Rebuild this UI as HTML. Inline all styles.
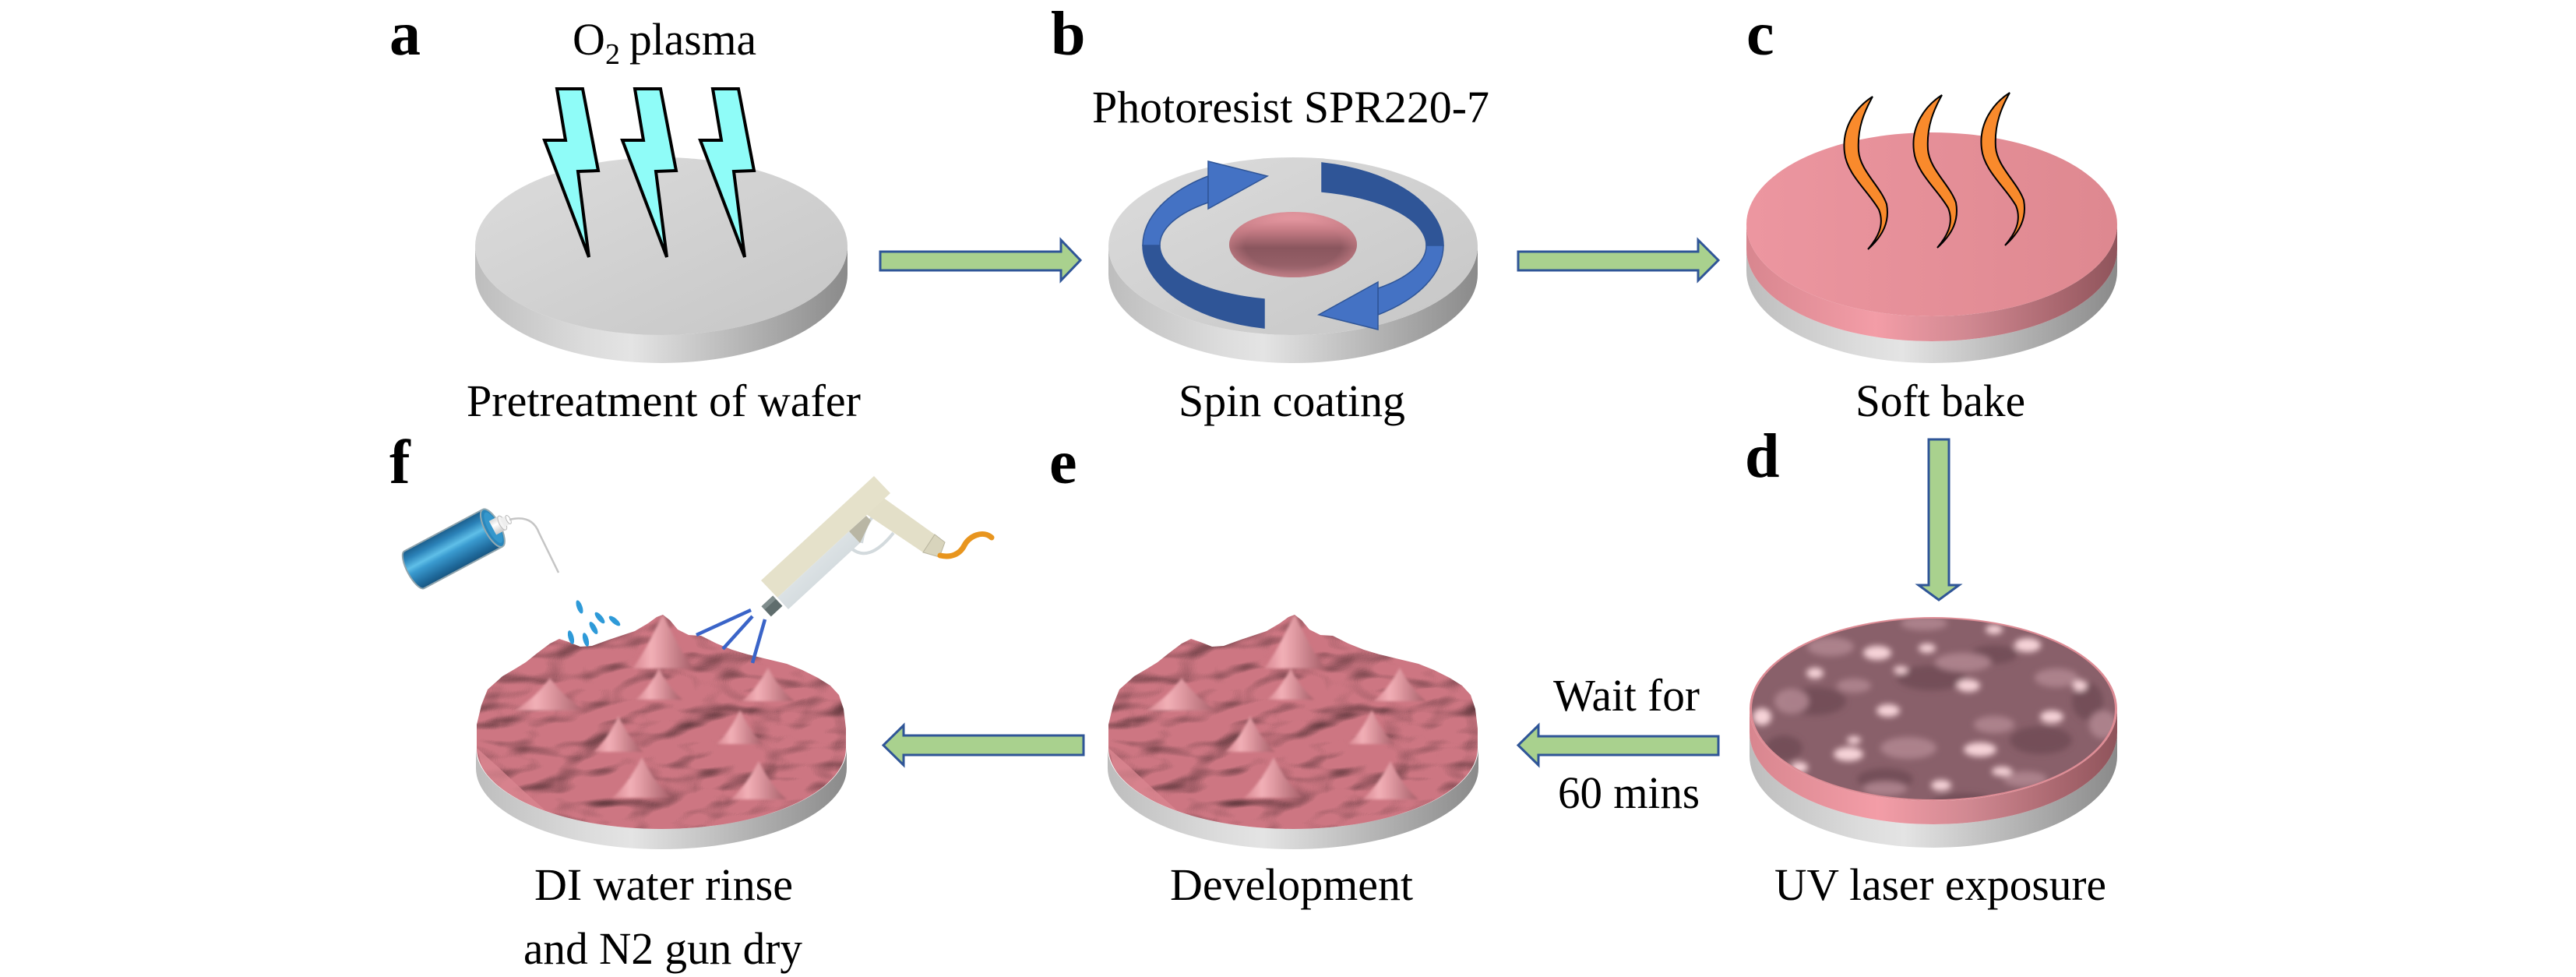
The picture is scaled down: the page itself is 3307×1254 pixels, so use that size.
<!DOCTYPE html>
<html><head><meta charset="utf-8"><style>
html,body{margin:0;padding:0;background:#fff;}
svg{display:block;}
text{font-family:"Liberation Serif","Times New Roman",serif;fill:#000;}
.lab{font-size:58px;}
.let{font-size:80px;font-weight:bold;}
</style></head><body>
<svg width="3307" height="1254" viewBox="0 0 3307 1254" xmlns="http://www.w3.org/2000/svg" font-family="Liberation Serif, serif">
<defs>
  <linearGradient id="greySide" x1="0" y1="0" x2="1" y2="0">
    <stop offset="0" stop-color="#bdbdbd"/><stop offset="0.3" stop-color="#dcdcdc"/>
    <stop offset="0.42" stop-color="#e4e4e4"/><stop offset="0.7" stop-color="#b8b8b8"/>
    <stop offset="1" stop-color="#8a8a8a"/>
  </linearGradient>
  <linearGradient id="greyTop" x1="0" y1="0" x2="1" y2="1">
    <stop offset="0" stop-color="#dcdcdc"/><stop offset="1" stop-color="#c6c6c6"/>
  </linearGradient>
  <linearGradient id="pinkSide" x1="0" y1="0" x2="1" y2="0">
    <stop offset="0" stop-color="#d8868f"/><stop offset="0.35" stop-color="#f39da7"/>
    <stop offset="0.6" stop-color="#d08891"/><stop offset="0.85" stop-color="#a8666e"/>
    <stop offset="1" stop-color="#8f545b"/>
  </linearGradient>
  <linearGradient id="pinkTop" x1="0" y1="0" x2="1" y2="0">
    <stop offset="0" stop-color="#ec96a0"/><stop offset="1" stop-color="#de8890"/>
  </linearGradient>
  <linearGradient id="dropG" x1="0" y1="0" x2="0" y2="1">
    <stop offset="0" stop-color="#f6a6af"/><stop offset="0.28" stop-color="#c67c85"/>
    <stop offset="0.55" stop-color="#8a565e"/><stop offset="0.8" stop-color="#955f67"/>
    <stop offset="1" stop-color="#b27780"/>
  </linearGradient>
  <radialGradient id="dropEdge" cx="0.5" cy="0.5" r="0.5">
    <stop offset="0.75" stop-color="#c98088" stop-opacity="0"/><stop offset="1" stop-color="#c98088" stop-opacity="0.6"/>
  </radialGradient>
  <linearGradient id="bottleG" x1="0" y1="0" x2="0" y2="1">
    <stop offset="0" stop-color="#1b5e8c"/><stop offset="0.2" stop-color="#2b82b8"/>
    <stop offset="0.42" stop-color="#5fbfe8"/><stop offset="0.55" stop-color="#3a9bd0"/>
    <stop offset="0.85" stop-color="#1f6a9c"/><stop offset="1" stop-color="#185580"/>
  </linearGradient>
  <linearGradient id="whiteG" x1="0" y1="0" x2="0" y2="1">
    <stop offset="0" stop-color="#d8d8d8"/><stop offset="0.4" stop-color="#ffffff"/><stop offset="1" stop-color="#c8c8c8"/>
  </linearGradient>
  <linearGradient id="barrelG" x1="0" y1="0" x2="1" y2="1">
    <stop offset="0" stop-color="#eef2f4"/><stop offset="1" stop-color="#c3ccd0"/>
  </linearGradient>
  <linearGradient id="coneG" x1="0" y1="0" x2="1" y2="0">
    <stop offset="0" stop-color="#d88791"/><stop offset="0.3" stop-color="#f2b0b7"/>
    <stop offset="0.5" stop-color="#e09aa2"/><stop offset="1" stop-color="#a65e68"/>
  </linearGradient>
  <filter id="blur4" x="-20%" y="-20%" width="140%" height="140%"><feGaussianBlur stdDeviation="4"/></filter>
  <filter id="blur1" x="-20%" y="-20%" width="140%" height="140%"><feGaussianBlur stdDeviation="1.5"/></filter>
  <filter id="bump" filterUnits="userSpaceOnUse" x="600" y="770" width="500" height="340" color-interpolation-filters="sRGB">
    <feTurbulence type="fractalNoise" baseFrequency="0.014 0.035" numOctaves="2" seed="5" result="n"/>
    <feGaussianBlur in="n" stdDeviation="1.2" result="nb"/>
    <feDiffuseLighting in="nb" surfaceScale="10" diffuseConstant="1.22" lighting-color="#ffffff" result="l">
      <feDistantLight azimuth="210" elevation="55"/>
    </feDiffuseLighting>
    <feFlood flood-color="#cd7682" result="p"/>
    <feBlend in="l" in2="p" mode="multiply"/>
  </filter>
  <clipPath id="roughClip">
    <path d="M612 960 L612 930 L618 905 L626 885 L645 868 L662 858 L675 850 L690 838 L706 826 L718 820 L730 824 L745 830 L760 829 L782 821 L800 815 L815 810 L832 800 L843 792 L851 789 L860 796 L870 808 L884 815 L900 816 L920 826 L940 834 L960 840 L985 846 L1010 852 L1030 860 L1050 870 L1066 880 L1077 892 L1083 910 L1086 935 L1086 960 A237 104 0 0 1 612 960 Z"/>
  </clipPath>
  <clipPath id="dClip"><ellipse cx="2482" cy="910" rx="233" ry="116"/></clipPath>
  <path id="flame" d="M0,0 C-22,14 -40,40 -36,72 C-33,100 -5,122 8,145 C16,165 6,182 -6,196 C14,178 22,160 18,138 C10,115 -16,95 -18,70 C-20,40 -10,18 0,0 Z"/>
  <path id="bolt" d="M715 114 L748 114 L768 219 L742 220 L756 330 L699 180 L726 180 Z"/>
  <g id="roughWafer">
    <path d="M611 960 L611 986 A238 104 0 0 0 1087 986 L1087 960 A238 104 0 0 1 611 960 Z" fill="url(#greySide)"/>
    <g clip-path="url(#roughClip)">
      <rect x="600" y="770" width="500" height="340" fill="#c8747e" filter="url(#bump)"/>
      <path d="M612 960 L640 985 L672 1015 L700 1040 L660 1030 L625 1005 Z" fill="#d98690" opacity="0.8"/>
      <g filter="url(#blur1)" fill="url(#coneG)">
        <path d="M812,858 C832,832 846,796 851,789 C856,796 870,832 890,858 Z"/>
        <path d="M660,912 C684,898 700,879 706,870 C712,879 728,898 752,912 Z"/>
        <path d="M816,898 C832,884 842,866 846,858 C850,866 860,884 876,898 Z"/>
        <path d="M952,900 C970,886 981,866 986,857 C991,866 1002,886 1020,900 Z"/>
        <path d="M920,955 C936,940 946,920 950,911 C954,920 964,940 980,955 Z"/>
        <path d="M762,965 C779,950 789,929 794,919 C799,929 809,950 826,965 Z"/>
        <path d="M786,1024 C806,1007 819,981 824,972 C829,981 842,1007 862,1024 Z"/>
        <path d="M938,1026 C957,1010 969,986 974,977 C979,986 991,1010 1010,1026 Z"/>
      </g>
    </g>
  </g>
</defs>

<!-- ===== a : wafer + plasma ===== -->
<path d="M610 316 L610 352 A239 114 0 0 0 1088 352 L1088 316 A239 114 0 0 1 610 316 Z" fill="url(#greySide)"/>
<ellipse cx="849" cy="316" rx="239" ry="114" fill="url(#greyTop)"/>
<g fill="#8ffcf8" stroke="#000" stroke-width="4" stroke-linejoin="miter">
  <use href="#bolt"/>
  <use href="#bolt" x="100"/>
  <use href="#bolt" x="200"/>
</g>

<!-- arrow a->b -->
<path d="M1130 323 L1362 323 L1362 308 L1387 334 L1362 360 L1362 347 L1130 347 Z" fill="#a9d18e" stroke="#2f5597" stroke-width="3"/>

<!-- ===== b : spin coating ===== -->
<path d="M1423 316 L1423 352 A237 114 0 0 0 1897 352 L1897 316 A237 114 0 0 1 1423 316 Z" fill="url(#greySide)"/>
<ellipse cx="1660" cy="316" rx="237" ry="114" fill="url(#greyTop)"/>
<ellipse cx="1660" cy="314" rx="82" ry="42" fill="url(#dropG)"/>
<ellipse cx="1660" cy="314" rx="82" ry="42" fill="url(#dropEdge)"/>
<g stroke="#2f5597" stroke-width="1.5" stroke-linejoin="miter">
  <path d="M1623 421 A193 108 0 0 1 1467 315 L1489 315 A171 71 0 0 0 1623 384 Z" fill="#2f5597"/>
  <path d="M1467 315 A193 108 0 0 1 1551 226 L1551 260 A171 71 0 0 0 1489 315 Z" fill="#4472c4"/>
  <path d="M1551 207 L1627 226 L1551 268 Z" fill="#4472c4"/>
  <path d="M1697 209 A193 108 0 0 1 1853 315 L1831 315 A171 71 0 0 0 1697 246 Z" fill="#2f5597"/>
  <path d="M1853 315 A193 108 0 0 1 1769 404 L1769 370 A171 71 0 0 0 1831 315 Z" fill="#4472c4"/>
  <path d="M1769 423 L1693 404 L1769 362 Z" fill="#4472c4"/>
</g>

<!-- arrow b->c -->
<path d="M1949 323 L2180 323 L2180 308 L2206 334 L2180 360 L2180 347 L1949 347 Z" fill="#a9d18e" stroke="#2f5597" stroke-width="3"/>

<!-- ===== c : soft bake ===== -->
<path d="M2242 320 L2242 348 A238 118 0 0 0 2718 348 L2718 320 A238 118 0 0 1 2242 320 Z" fill="url(#greySide)"/>
<path d="M2242 288 L2242 320 A238 118 0 0 0 2718 320 L2718 288 A238 118 0 0 1 2242 288 Z" fill="url(#pinkSide)"/>
<ellipse cx="2480" cy="288" rx="238" ry="118" fill="url(#pinkTop)"/>
<g fill="#f98a2c" stroke="#000" stroke-width="2">
  <use href="#flame" transform="translate(2404 124)"/>
  <use href="#flame" transform="translate(2493 122)"/>
  <use href="#flame" transform="translate(2580 119)"/>
</g>

<!-- arrow c->d -->
<path d="M2476 564 L2502 564 L2502 751 L2515 751 L2489 770 L2463 751 L2476 751 Z" fill="#a9d18e" stroke="#2f5597" stroke-width="3"/>

<!-- ===== d : UV exposure ===== -->
<path d="M2246 940 L2246 970 A236 118 0 0 0 2718 970 L2718 940 A236 118 0 0 1 2246 940 Z" fill="url(#greySide)"/>
<path d="M2246 910 L2246 940 A236 118 0 0 0 2718 940 L2718 910 A236 118 0 0 1 2246 910 Z" fill="url(#pinkSide)"/>
<ellipse cx="2482" cy="910" rx="236" ry="118" fill="#de8c95"/>
<g clip-path="url(#dClip)">
  <ellipse cx="2482" cy="910" rx="236" ry="118" fill="#89606a"/>
  <g filter="url(#blur4)">
    <g fill="#6f4a54" opacity="0.8">
      <ellipse cx="2330" cy="900" rx="40" ry="18"/><ellipse cx="2480" cy="870" rx="45" ry="16"/>
      <ellipse cx="2620" cy="950" rx="40" ry="18"/><ellipse cx="2420" cy="1000" rx="36" ry="14"/>
      <ellipse cx="2560" cy="840" rx="30" ry="12"/><ellipse cx="2680" cy="900" rx="20" ry="24"/>
      <ellipse cx="2290" cy="960" rx="24" ry="16"/><ellipse cx="2520" cy="1030" rx="40" ry="12"/>
    </g>
    <g fill="#b08690" opacity="0.9">
      <ellipse cx="2350" cy="830" rx="30" ry="12"/><ellipse cx="2520" cy="850" rx="36" ry="12"/>
      <ellipse cx="2640" cy="870" rx="28" ry="12"/><ellipse cx="2450" cy="960" rx="36" ry="14"/>
      <ellipse cx="2300" cy="900" rx="22" ry="16"/><ellipse cx="2600" cy="1000" rx="28" ry="10"/>
      <ellipse cx="2700" cy="930" rx="18" ry="18"/><ellipse cx="2420" cy="1012" rx="28" ry="9"/>
      <ellipse cx="2560" cy="930" rx="26" ry="11"/><ellipse cx="2380" cy="880" rx="22" ry="9"/>
      <ellipse cx="2470" cy="800" rx="30" ry="9"/><ellipse cx="2650" cy="810" rx="22" ry="8"/>
    </g>
    <g fill="#f6d3d8">
      <ellipse cx="2410" cy="838" rx="18" ry="9"/><ellipse cx="2474" cy="832" rx="11" ry="6"/>
      <ellipse cx="2603" cy="828" rx="17" ry="9"/><ellipse cx="2527" cy="880" rx="15" ry="8"/>
      <ellipse cx="2424" cy="912" rx="15" ry="8"/><ellipse cx="2262" cy="920" rx="12" ry="11"/>
      <ellipse cx="2634" cy="920" rx="15" ry="8"/><ellipse cx="2373" cy="968" rx="19" ry="9"/>
      <ellipse cx="2542" cy="962" rx="21" ry="9"/><ellipse cx="2492" cy="1008" rx="13" ry="7"/>
      <ellipse cx="2330" cy="864" rx="11" ry="7"/><ellipse cx="2670" cy="880" rx="9" ry="7"/>
      <ellipse cx="2570" cy="990" rx="13" ry="6"/><ellipse cx="2310" cy="985" rx="11" ry="7"/>
      <ellipse cx="2560" cy="808" rx="11" ry="6"/><ellipse cx="2690" cy="840" rx="9" ry="6"/>
      <ellipse cx="2440" cy="860" rx="9" ry="5"/><ellipse cx="2380" cy="950" rx="9" ry="5"/>
    </g>
  </g>
</g>

<!-- arrow d->e -->
<path d="M2206 945 L1975 945 L1975 931 L1949 956.5 L1975 982 L1975 969 L2206 969 Z" fill="#a9d18e" stroke="#2f5597" stroke-width="3"/>

<!-- ===== e : development ===== -->
<use href="#roughWafer" transform="translate(811 0)"/>

<!-- arrow e->f -->
<path d="M1391 944 L1160 944 L1160 931 L1134 956.5 L1160 982 L1160 969 L1391 969 Z" fill="#a9d18e" stroke="#2f5597" stroke-width="3"/>

<!-- ===== f : rinse & dry ===== -->
<use href="#roughWafer"/>

<!-- wash bottle -->
<g transform="translate(583 704) rotate(-28)">
  <ellipse cx="-58" cy="0" rx="9" ry="27" fill="url(#bottleG)"/>
  <rect x="-58" y="-27" width="114" height="54" fill="url(#bottleG)"/>
  <path d="M56 -27 L-58 -27 A9 27 0 0 0 -58 27 L56 27" fill="none" stroke="#90a4ad" stroke-width="2"/>
  <ellipse cx="56" cy="0" rx="10" ry="27" fill="#2a86bb" stroke="#93a9b1" stroke-width="2"/>
  <ellipse cx="57" cy="0" rx="7" ry="22" fill="#3597cc"/>
  <rect x="56" y="-10" width="14" height="20" fill="url(#whiteG)"/>
  <ellipse cx="70" cy="0" rx="4" ry="10" fill="#f4f4f4" stroke="#bbbbbb" stroke-width="1"/>
  <rect x="70" y="-6" width="9" height="12" fill="#eeeeee"/>
  <ellipse cx="79" cy="0" rx="2.5" ry="6" fill="#ffffff" stroke="#bbbbbb" stroke-width="1"/>
</g>
<path d="M654 667 Q683 660 692 684 L717 735" fill="none" stroke="#c5c5c5" stroke-width="2.5"/>
<g fill="#2e9ad8">
  <ellipse cx="744" cy="779" rx="3.5" ry="9" transform="rotate(-20 744 779)"/>
  <ellipse cx="770" cy="793" rx="3.5" ry="9" transform="rotate(-40 770 793)"/>
  <ellipse cx="789" cy="797" rx="3.5" ry="9" transform="rotate(-50 789 797)"/>
  <ellipse cx="762" cy="806" rx="3.5" ry="9" transform="rotate(-30 762 806)"/>
  <ellipse cx="733" cy="818" rx="3.5" ry="9" transform="rotate(-15 733 818)"/>
  <ellipse cx="752" cy="821" rx="3.5" ry="9" transform="rotate(-15 752 821)"/>
</g>

<!-- N2 gun -->
<g stroke="#3a64c8" stroke-width="4.5" stroke-linecap="butt">
  <line x1="964" y1="783" x2="894" y2="815"/>
  <line x1="966" y1="791" x2="928" y2="833"/>
  <line x1="982" y1="795" x2="966" y2="851"/>
</g>
<path d="M1092 703 Q1115 724 1147 684" fill="none" stroke="#d3dadd" stroke-width="4"/>
<path d="M1106 697 Q1110 672 1124 660" fill="none" stroke="#d3dadd" stroke-width="4"/>
<path d="M1130 636 L1200 686 L1185 709 L1112 660 Z" fill="#e3dfc8"/>
<path d="M1200 686 L1213 696 L1206 715 L1185 709 Z" fill="#d8d4bc" stroke="#b8b49e" stroke-width="1"/>
<path d="M977 745 L1122 611 L1143 633 L998 767 Z" fill="#e5e1ca"/>
<path d="M998 767 L1090 682 L1104 697 L1012 782 Z" fill="url(#barrelG)"/>
<path d="M1090 682 L1112 662 L1118 668 L1104 697 Z" fill="#b9b6a4"/>
<g transform="translate(991 778) rotate(-43)">
  <rect x="-10" y="-9" width="20" height="18" fill="#5f6d6d"/>
  <rect x="-10" y="-9" width="20" height="6" fill="#7f8c8c"/>
</g>
<path d="M1207 713 C1220 716 1232 712 1238 700 C1244 688 1262 680 1273 690" fill="none" stroke="#e8951e" stroke-width="7" stroke-linecap="round"/>

<!-- ===== labels ===== -->
<g font-family="Liberation Serif, serif">
<text class="let" font-family="Liberation Serif, serif" x="500" y="70">a</text>
<text class="let" font-family="Liberation Serif, serif" x="1349" y="70">b</text>
<text class="let" font-family="Liberation Serif, serif" x="2242" y="70">c</text>
<text class="let" font-family="Liberation Serif, serif" x="2240" y="612">d</text>
<text class="let" font-family="Liberation Serif, serif" x="1347" y="620">e</text>
<text class="let" font-family="Liberation Serif, serif" x="500" y="620">f</text>

<text class="lab" font-family="Liberation Serif, serif" x="735" y="70">O</text>
<text font-family="Liberation Serif, serif" x="777" y="82" style="font-size:38px">2</text>
<text class="lab" font-family="Liberation Serif, serif" x="808" y="70" textLength="163" lengthAdjust="spacingAndGlyphs">plasma</text>
<text class="lab" font-family="Liberation Serif, serif" x="1402" y="157" textLength="510" lengthAdjust="spacingAndGlyphs">Photoresist SPR220-7</text>

<text class="lab" font-family="Liberation Serif, serif" x="599" y="534" textLength="506" lengthAdjust="spacingAndGlyphs">Pretreatment of wafer</text>
<text class="lab" font-family="Liberation Serif, serif" x="1513" y="534" textLength="291" lengthAdjust="spacingAndGlyphs">Spin coating</text>
<text class="lab" font-family="Liberation Serif, serif" x="2382" y="534" textLength="218" lengthAdjust="spacingAndGlyphs">Soft bake</text>

<text class="lab" font-family="Liberation Serif, serif" x="1994" y="912" textLength="188" lengthAdjust="spacingAndGlyphs">Wait for</text>
<text class="lab" font-family="Liberation Serif, serif" x="2000" y="1037" textLength="182" lengthAdjust="spacingAndGlyphs">60 mins</text>

<text class="lab" font-family="Liberation Serif, serif" x="686" y="1155" textLength="332" lengthAdjust="spacingAndGlyphs">DI water rinse</text>
<text class="lab" font-family="Liberation Serif, serif" x="672" y="1237" textLength="358" lengthAdjust="spacingAndGlyphs">and N2 gun dry</text>
<text class="lab" font-family="Liberation Serif, serif" x="1502" y="1155" textLength="312" lengthAdjust="spacingAndGlyphs">Development</text>
<text class="lab" font-family="Liberation Serif, serif" x="2278" y="1155" textLength="426" lengthAdjust="spacingAndGlyphs">UV laser exposure</text>
</g>
</svg>
</body></html>
